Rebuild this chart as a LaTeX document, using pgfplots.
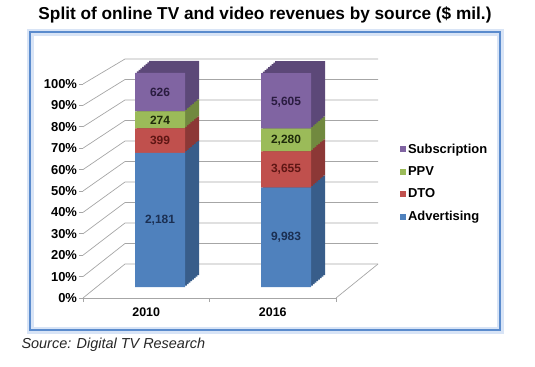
\documentclass[border=0pt]{standalone}
\usepackage{fontspec}
\setmainfont{Liberation Sans}
\usepackage{pgfplots}
\usepackage{pgfplotstable}
\pgfplotsset{compat=1.18}
\definecolor{adv}{HTML}{4F81BD}
\definecolor{advS}{HTML}{385D8A}
\definecolor{dto}{HTML}{C0504D}
\definecolor{dtoS}{HTML}{8C3836}
\definecolor{ppv}{HTML}{9BBB59}
\definecolor{ppvS}{HTML}{71893F}
\definecolor{sub}{HTML}{8064A2}
\definecolor{subS}{HTML}{5C4878}
\definecolor{advL}{HTML}{1B2F52}
\definecolor{dtoL}{HTML}{5E1614}
\definecolor{ppvL}{HTML}{1E2A0A}
\definecolor{subL}{HTML}{2A1C40}
\definecolor{gridc}{HTML}{A6A6A6}
\definecolor{frame}{HTML}{5A8BCD}
\definecolor{frameglow}{HTML}{A9C4EA}

% shares of each year's total (%), computed from the values in $ mil.
\pgfplotstableread{
x adv dto ppv sub
0 62.67 11.47 7.87 17.99
1 46.38 16.98 10.59 26.04
}\shares
% middle of each segment and its value in $ mil.
\pgfplotstableread{
x advmid advlab dtomid dtolab ppvmid ppvlab submid sublab
0 31.34 2,181 68.41 399 78.07 274 91.01 626
1 23.19 9,983 54.87 3,655 68.66 2,280 86.47 5,605
}\labels

\pgfplotsset{barax/.style={scale only axis, width=252bp, height=214bp,
  anchor=south west, xmin=-0.5, xmax=1.5, ymin=0, ymax=100,
  hide axis, clip=false}}

\begin{document}
\begin{tikzpicture}[x=1bp,y=1bp]
\path[use as bounding box] (0,0) rectangle (535,366);
\node[font=\bfseries\fontsize{17.3}{20}\selectfont] at (265,351) {Split of online TV and video revenues by source (\$ mil.)};
\draw[line width=7bp, color=frameglow, opacity=0.45] (30,36) rectangle (500,334);
\draw[line width=2.8bp, color=frame] (30,36) rectangle (500,334);
\node[anchor=west, font=\itshape\fontsize{14.5}{17}\selectfont, text=black!85] at (18,21) {Source: Digital TV Research};
% walls
\foreach \v in {0,10,...,100}{
  \draw[gridc, line width=0.7bp] (83,{68+2.14*\v}) -- (125,{102+2.05*\v}) -- (378,{102+2.05*\v});
}
\draw[gridc, line width=0.7bp] (336,68) -- (378,102);

% front axis with ticks and floor edge
\begin{axis}[scale only axis, width=253bp, height=214bp, anchor=south west, at={(83bp,68bp)},
  xmin=-0.5, xmax=1.5, ymin=0, ymax=100,
  axis x line*=bottom, axis y line*=left,
  y axis line style={draw=none}, x axis line style={gridc, line width=0.7bp, -},
  ytick={0,10,...,100}, yticklabel={\pgfmathprintnumber{\tick}\%},
  xtick={-0.5,0.5,1.5}, xticklabels={},
  extra x ticks={0,1}, extra x tick labels={2010,2016},
  extra x tick style={major tick length=0pt, tick label style={yshift=-6bp}},
  tick style={gridc, line width=0.7bp}, major tick length=4bp, tick align=outside,
  yticklabel style={font=\bfseries\fontsize{13}{15}\selectfont, xshift=1.5bp},
  xticklabel style={font=\bfseries\fontsize{12.5}{15}\selectfont},
  /pgf/number format/assume math mode=true,
]
\addplot[draw=none] coordinates {(0,0)};
\end{axis}

% side and top faces of the bars
\foreach \k in {8,7,...,1}{
\begin{axis}[barax, at={(97bp+\k*1.75bp, 79bp+\k*1.5bp)}, ybar stacked, bar width=50bp]
\addplot[fill=advS, draw=none] table[x=x, y=adv] {\shares};
\addplot[fill=dtoS, draw=none] table[x=x, y=dto] {\shares};
\addplot[fill=ppvS, draw=none] table[x=x, y=ppv] {\shares};
\addplot[fill=subS, draw=none] table[x=x, y=sub] {\shares};
\end{axis}
}

% front faces of the bars, legend
\begin{axis}[barax, at={(97bp,79bp)}, ybar stacked, bar width=50bp,
  legend style={draw=none, fill=none, at={(axis description cs:1.19,0.688)}, anchor=north west,
    font=\bfseries\fontsize{13}{15}\selectfont, row sep=7.8bp, cells={anchor=west}},
  reverse legend,
  legend image code/.code={\fill[#1, draw=none] (0bp,-3bp) rectangle (6bp,3bp);}]
\addplot[fill=adv, draw=none] table[x=x, y=adv] {\shares};
\addplot[fill=dto, draw=none] table[x=x, y=dto] {\shares};
\addplot[fill=ppv, draw=none] table[x=x, y=ppv] {\shares};
\addplot[fill=sub, draw=none] table[x=x, y=sub] {\shares};
\legend{Advertising, DTO, PPV, Subscription}
\end{axis}

% value labels
\begin{axis}[barax, at={(97bp,79bp)},
  nodes near coords, point meta=explicit symbolic,
  every node near coord/.append style={anchor=center, font=\bfseries\fontsize{12}{14}\selectfont}]
\addplot[draw=none, mark=none, every node near coord/.append style={text=advL}] table[x=x, y=advmid, meta=advlab] {\labels};
\addplot[draw=none, mark=none, every node near coord/.append style={text=dtoL}] table[x=x, y=dtomid, meta=dtolab] {\labels};
\addplot[draw=none, mark=none, every node near coord/.append style={text=ppvL}] table[x=x, y=ppvmid, meta=ppvlab] {\labels};
\addplot[draw=none, mark=none, every node near coord/.append style={text=subL}] table[x=x, y=submid, meta=sublab] {\labels};
\end{axis}
\end{tikzpicture}
\end{document}
